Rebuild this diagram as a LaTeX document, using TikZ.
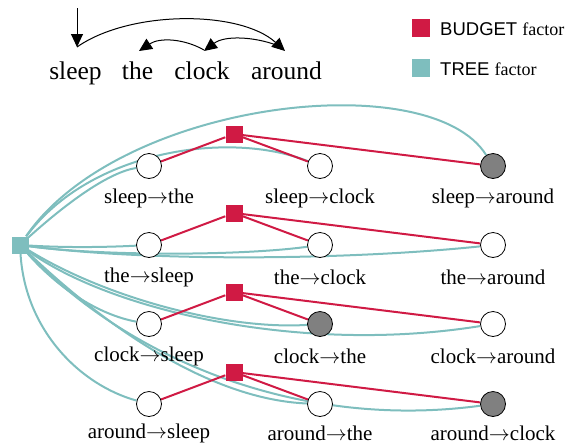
\RequirePackage{fix-cm}
\documentclass[tikz,border=0pt]{standalone}
\usepackage{fontspec}
\setmainfont{Liberation Serif}
\newfontfamily\legsans{Liberation Sans}
\usetikzlibrary{arrows.meta,backgrounds}
\definecolor{budred}{RGB}{208,26,68}
\definecolor{treeteal}{RGB}{126,190,190}
\definecolor{shade}{RGB}{128,128,128}
\begin{document}
\begin{tikzpicture}[x=1pt,y=-1pt,
  var/.style={circle,draw=black,line width=0.8pt,fill=white,minimum size=25pt,inner sep=0pt},
  obs/.style={var,fill=shade},
  lab/.style={font=\fontsize{21}{25}\selectfont,inner sep=0pt},
  budget/.style={rectangle,fill=budred,minimum size=17pt,inner sep=0pt},
  tree/.style={rectangle,fill=treeteal,minimum size=17pt,inner sep=0pt},
  tedge/.style={draw=treeteal,line width=2pt},
  bedge/.style={draw=budred,line width=2pt},
  dep/.style={line width=1pt,-{Triangle[length=13pt,width=12pt]}},
  word/.style={font=\fontsize{25.5}{30}\selectfont,anchor=base,inner sep=0pt},
  legtext/.style={anchor=west,inner sep=0pt}
]
\useasboundingbox (0,0) rectangle (567,445);

% top sentence
\node[word] (w1) at (75.5,79) {sleep};
\node[word] (w2) at (137.5,79) {the};
\node[word] (w3) at (202,79) {clock};
\node[word] (w4) at (286.5,79) {around};
\coordinate (root) at (77,8);
\coordinate (s1) at (77,47);
\coordinate (s4) at (285,51);
\coordinate (a4) at (276,45);
\coordinate (s3) at (204,51);
\coordinate (a3) at (204,50);
\coordinate (s2) at (139,51);
\draw[dep] (root) -- (s1);
\draw[dep] (s1) .. controls (130,10) and (240,10) .. (s4);
\draw[dep] (a4) .. controls (255,37) and (225,35) .. (s3);
\draw[dep] (a3) .. controls (185,39) and (160,37) .. (s2);

% legend
\node[budget,minimum size=18pt] (lb) at (421,28) {};
\node[legtext] (lbt) at (440,29) {\legsans\fontsize{18.5}{22}\selectfont BUDGET \rmfamily\fontsize{18}{22}\selectfont factor};
\node[tree,minimum size=18pt] (lt) at (421,68) {};
\node[legtext] (ltt) at (440,69) {\legsans\fontsize{18.5}{22}\selectfont TREE \rmfamily\fontsize{18}{22}\selectfont factor};

% factor graph nodes
\node[var] (n11) at (149,166) {};
\node[var] (n12) at (320,166) {};
\node[obs] (n13) at (493,166) {};
\node[var] (n21) at (149,245) {};
\node[var] (n22) at (320,245) {};
\node[var] (n23) at (493,245) {};
\node[var] (n31) at (149,324) {};
\node[obs] (n32) at (320,324) {};
\node[var] (n33) at (493,324) {};
\node[var] (n41) at (149,404) {};
\node[var] (n42) at (320,404) {};
\node[obs] (n43) at (493,404) {};

\node[lab] (l11) at (149,198) {sleep$\rightarrow$the};
\node[lab] (l12) at (320,198) {sleep$\rightarrow$clock};
\node[lab] (l13) at (493,198) {sleep$\rightarrow$around};
\node[lab] (l21) at (149,277) {the$\rightarrow$sleep};
\node[lab] (l22) at (320,277) {the$\rightarrow$clock};
\node[lab] (l23) at (493,277) {the$\rightarrow$around};
\node[lab] (l31) at (149,356) {clock$\rightarrow$sleep};
\node[lab] (l32) at (320,356) {clock$\rightarrow$the};
\node[lab] (l33) at (493,356) {clock$\rightarrow$around};
\node[lab] (l41) at (149,433) {around$\rightarrow$sleep};
\node[lab] (l42) at (320,433) {around$\rightarrow$the};
\node[lab] (l43) at (493,433) {around$\rightarrow$clock};

\node[budget] (b1) at (234,134) {};
\node[budget] (b2) at (234,213) {};
\node[budget] (b3) at (234,292) {};
\node[budget] (b4) at (234,372) {};
\node[tree] (t) at (20,245) {};

\begin{pgfonlayer}{background}
\draw[tedge] (t) .. controls (120,100) and (430,65) .. (n13);
\draw[tedge] (t) .. controls (90,150) and (230,130) .. (n12);
\draw[tedge] (t) .. controls (70,200) and (110,172) .. (n11);
\draw[tedge] (t) .. controls (70,248) and (110,247) .. (n21);
\draw[tedge] (t) .. controls (100,256) and (240,256) .. (n22);
\draw[tedge] (t) .. controls (150,262) and (350,260) .. (n23);
\draw[tedge] (t) .. controls (60,290) and (100,315) .. (n31);
\draw[tedge] (t) .. controls (110,300) and (230,330) .. (n32);
\draw[tedge] (t) .. controls (110,310) and (300,355) .. (n33);
\draw[tedge] (t) .. controls (25,330) and (80,385) .. (n41);
\draw[tedge] (t) .. controls (120,340) and (220,400) .. (n42);
\draw[tedge] (t) .. controls (130,360) and (300,430) .. (n43);

\draw[bedge] (b1) -- (n11);
\draw[bedge] (b1) -- (n12);
\draw[bedge] (b1) -- (n13);
\draw[bedge] (b2) -- (n21);
\draw[bedge] (b2) -- (n22);
\draw[bedge] (b2) -- (n23);
\draw[bedge] (b3) -- (n31);
\draw[bedge] (b3) -- (n32);
\draw[bedge] (b3) -- (n33);
\draw[bedge] (b4) -- (n41);
\draw[bedge] (b4) -- (n42);
\draw[bedge] (b4) -- (n43);
\end{pgfonlayer}
\end{tikzpicture}
\end{document}
